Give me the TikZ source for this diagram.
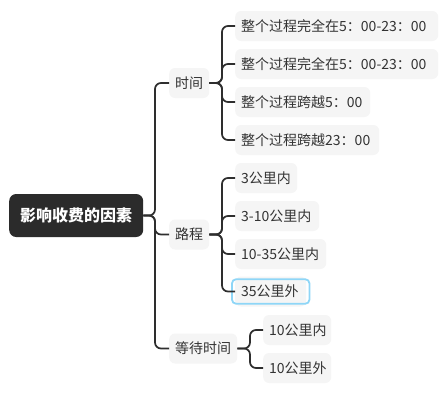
\documentclass[tikz,border=0pt]{standalone}
\usepackage{fontspec}
\setmainfont{Noto Sans CJK SC}
\definecolor{boxfill}{HTML}{F5F5F5}
\definecolor{rootfill}{HTML}{2B2B2B}
\definecolor{linec}{HTML}{2E2E2E}
\definecolor{textc}{HTML}{333333}
\definecolor{hl}{HTML}{8ED6F7}
\begin{document}
\begin{tikzpicture}[x=1pt,y=-1pt,
  box/.style={fill=boxfill, rounded corners=6pt, inner xsep=6pt, inner ysep=0pt,
    minimum height=30pt, anchor=west, text=textc, font=\fontsize{14}{16}\selectfont},
  bw/.style={text width=#1pt-12pt, align=left},
  rootbox/.style={fill=rootfill, rounded corners=7pt, inner xsep=11pt, inner ysep=0pt,
    minimum height=43pt, minimum width=134pt, anchor=west, text=white, font=\fontsize{16}{18}\selectfont\bfseries},
  link/.style={draw=linec, line width=1.7pt, rounded corners=6pt}]
\useasboundingbox (0,0) rectangle (444,400);
\fill[white] (0,0) rectangle (444,400);
% root
\node[rootbox] (root) at (9,215.5) {影响收费的因素};
% level 1
\node[box] (sj) at (169,83) {时间};
\node[box] (lc) at (169,234.5) {路程};
\node[box] (dd) at (169,348.5) {等待时间};
% time children
\node[box,bw=203] (t1) at (235,26) {整个过程完全在5：00-23：00};
\node[box,bw=203] (t2) at (235,64) {整个过程完全在5：00-23：00};
\node[box,bw=135] (t3) at (235,102) {整个过程跨越5：00};
\node[box,bw=144] (t4) at (235,140) {整个过程跨越23：00};
% distance children
\node[box,bw=62] (d1) at (235,178) {3公里内};
\node[box,bw=84] (d2) at (235,216) {3-10公里内};
\node[box,bw=91] (d3) at (235,254) {10-35公里内};
\node[box,bw=71] (d4) at (235,291.5) {35公里外};
\draw[hl, line width=1.8pt, rounded corners=4pt] ([xshift=-3pt,yshift=3pt]d4.south west) rectangle ([xshift=3pt,yshift=-3pt]d4.north east);
% waiting children
\node[box,bw=68] (w1) at (263,330) {10公里内};
\node[box,bw=68] (w2) at (263,368) {10公里外};
% connectors
\foreach \c in {sj,lc,dd} \draw[link] (root.east) -| (155,0 |- \c.west) -- (\c.west);
\foreach \c in {t1,t2,t3,t4} \draw[link] (sj.east) -- (222,0 |- sj.east) |- (\c.west);
\foreach \c in {d1,d2,d3,d4} \draw[link] (lc.east) -- (222,0 |- lc.east) |- (\c.west);
\foreach \c in {w1,w2} \draw[link] (dd.east) -- (250,0 |- dd.east) |- (\c.west);
\end{tikzpicture}
\end{document}
